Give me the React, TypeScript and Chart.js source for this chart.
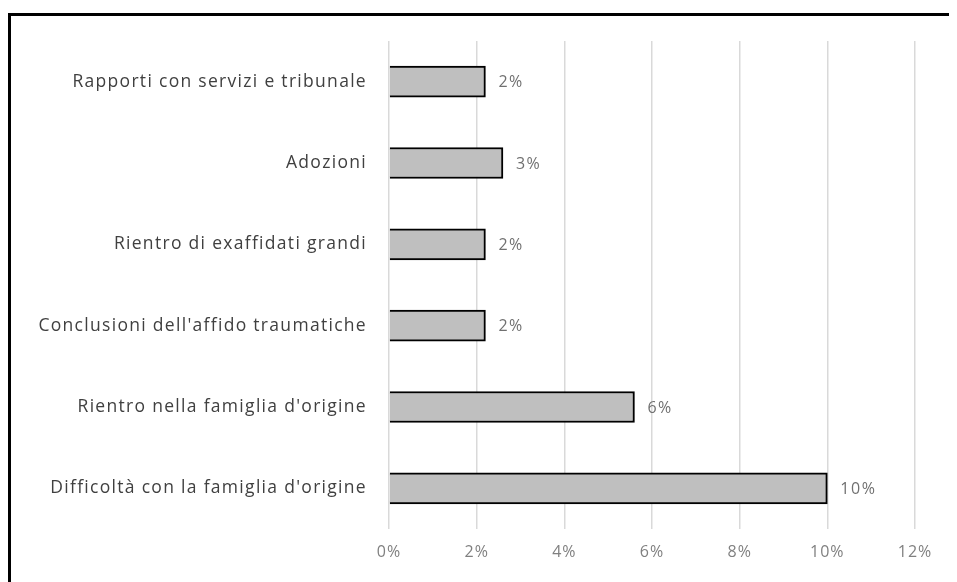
import React, { useEffect, useRef } from "react";
import { Chart, registerables } from "chart.js";

Chart.register(...registerables);

const categories = [
  "Rapporti con servizi e tribunale",
  "Adozioni",
  "Rientro di exaffidati grandi",
  "Conclusioni dell'affido traumatiche",
  "Rientro nella famiglia d'origine",
  "Difficoltà con la famiglia d'origine",
];
const values = [2.2, 2.6, 2.2, 2.2, 5.6, 10.0];
const valueLabels = ["2%", "3%", "2%", "2%", "6%", "10%"];
const xTicks = [0, 2, 4, 6, 8, 10, 12];

const FONT = "'Open Sans', Lato, sans-serif";

const spacingPlugin = {
  id: "spacing",
  beforeDraw(chart: any) {
    try {
      chart.ctx.letterSpacing = "1px";
    } catch (e) {}
  },
  afterDraw(chart: any) {
    try {
      chart.ctx.letterSpacing = "0px";
    } catch (e) {}
  },
};

const labelPlugin = {
  id: "customLabels",
  afterDatasetsDraw(chart: any) {
    const ctx = chart.ctx;
    const meta = chart.getDatasetMeta(0);
    const yScale = chart.scales.y;
    ctx.save();
    // value labels
    ctx.font = `16px ${FONT}`;
    ctx.fillStyle = "#707070";
    ctx.textAlign = "left";
    ctx.textBaseline = "middle";
    try {
      (ctx as any).letterSpacing = "1.5px";
    } catch (e) {}
    meta.data.forEach((el: any, i: number) => {
      ctx.fillText(valueLabels[i], el.x + 13, el.y + 1);
    });
    // category labels
    ctx.font = `17.5px ${FONT}`;
    ctx.fillStyle = "#404040";
    ctx.textAlign = "right";
    try {
      (ctx as any).letterSpacing = "1.3px";
    } catch (e) {}
    categories.forEach((c, i) => {
      const y = yScale.getPixelForTick(i);
      ctx.fillText(c, yScale.right - 22, y);
    });
    ctx.restore();
  },
};

export default function App() {
  const ref = useRef<HTMLCanvasElement | null>(null);
  useEffect(() => {
    document.body.style.overflow = "hidden";
    if (!ref.current) return;
    const chart = new Chart(ref.current, {
      type: "bar",
      data: {
        labels: categories,
        datasets: [
          {
            data: values,
            backgroundColor: "#bfbfbf",
            borderColor: "#000000",
            borderWidth: 2,
            barThickness: 31,
          },
        ],
      },
      options: {
        indexAxis: "y",
        animation: false,
        responsive: true,
        maintainAspectRatio: false,
        layout: { padding: { left: 0, right: 42, top: 25, bottom: 0 } },
        plugins: {
          legend: { display: false },
          tooltip: { enabled: false },
        },
        scales: {
          x: {
            min: 0,
            max: 12,
            afterBuildTicks(axis: any) {
              axis.ticks = xTicks.map((v) => ({ value: v }));
            },
            afterFit(axis: any) {
              axis.height = 53;
            },
            grid: { color: "#d9d9d9", lineWidth: 1.5, drawTicks: false },
            border: { display: false },
            ticks: {
              padding: 14,
              color: "#808080",
              font: { family: FONT, size: 16 },
              callback: (v: any) => `${v}%`,
            },
          },
          y: {
            afterFit(axis: any) {
              axis.width = 378;
            },
            grid: { display: false, drawTicks: false },
            border: { display: false },
            ticks: { display: false },
          },
        },
      },
      plugins: [spacingPlugin, labelPlugin],
    });
    return () => chart.destroy();
  }, []);

  return (
    <div style={{ paddingTop: 5 }}>
      <div
        style={{
          borderTop: "3px solid #000",
          borderLeft: "3px solid #000",
          width: 946,
          height: 566,
        }}
      >
        <div style={{ position: "relative", width: 946, height: 566 }}>
          <canvas ref={ref} />
        </div>
      </div>
    </div>
  );
}
